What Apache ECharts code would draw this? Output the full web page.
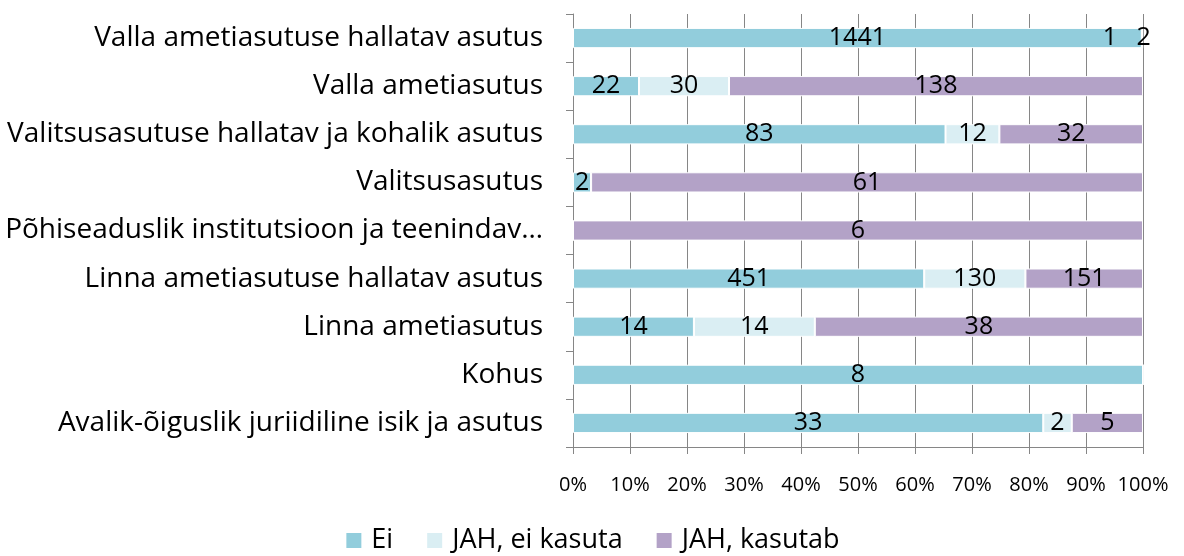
<!DOCTYPE html>
<html>
<head>
<meta charset="utf-8">
<script src="https://cdn.jsdelivr.net/npm/echarts@6/dist/echarts.min.js"></script>
<style>
  html, body { margin: 0; padding: 0; background: #fff; }
  #chart { width: 1184px; height: 556px; }
</style>
</head>
<body>
<div id="chart"></div>
<script>
  // kategooriad alt üles
  const categories = [
    'Avalik-õiguslik juriidiline isik ja asutus',
    'Kohus',
    'Linna ametiasutus',
    'Linna ametiasutuse hallatav asutus',
    'Põhiseaduslik institutsioon ja teenindav…',
    'Valitsusasutus',
    'Valitsusasutuse hallatav ja kohalik asutus',
    'Valla ametiasutus',
    'Valla ametiasutuse hallatav asutus'
  ]
  const seriesNames = ['Ei', 'JAH, ei kasuta', 'JAH, kasutab']
  const ei = [33, 8, 14, 451, 0, 2, 83, 22, 1441]
  const jahEiKasuta = [2, 0, 14, 130, 0, 0, 12, 30, 1]
  const jahKasutab = [5, 0, 38, 151, 6, 61, 32, 138, 2]
  const xTicks = ['0%', '10%', '20%', '30%', '40%', '50%', '60%', '70%', '80%', '90%', '100%']
  const colors = ['#92CDDC', '#DAEEF3', '#B3A2C7']

  const font = 'Open Sans'
  const counts = [ei, jahEiKasuta, jahKasutab]
  const totals = categories.map((c, i) => ei[i] + jahEiKasuta[i] + jahKasutab[i])

  const series = counts.map((arr, s) => ({
    name: seriesNames[s],
    type: 'bar',
    stack: 'total',
    barCategoryGap: '58%',
    itemStyle: { color: colors[s], borderColor: '#fff', borderWidth: 1 },
    label: {
      show: true,
      position: 'inside',
      color: '#000',
      fontFamily: font,
      fontSize: 25,
      formatter: (p) => (arr[p.dataIndex] === 0 ? '' : String(arr[p.dataIndex]))
    },
    data: arr.map((v, i) => {
      const item = { value: (v / totals[i]) * 100 }
      // tillukesed lõigud ülemisel tulbal – sildid nihutatud nagu originaalis
      if (i === 8 && s === 1) item.label = { offset: [-32, 0] }
      if (i === 8 && s === 2) item.label = { offset: [1, 0] }
      return item
    })
  }))

  const chart = echarts.init(document.getElementById('chart'))
  chart.setOption({
    animation: false,
    textStyle: { fontFamily: font },
    grid: { left: 573, right: 41, top: 14, bottom: 109 },
    legend: {
      bottom: -3,
      left: 'center',
      itemWidth: 17,
      itemHeight: 17,
      itemGap: 32,
      icon: 'rect',
      textStyle: { fontFamily: font, fontSize: 27, color: '#000', padding: [0, 0, 0, 4] },
      data: seriesNames
    },
    xAxis: {
      type: 'value',
      min: 0,
      max: 100,
      interval: 10,
      axisLine: { show: true, lineStyle: { color: '#868686' } },
      axisTick: { show: true, length: 7, lineStyle: { color: '#868686' } },
      splitLine: { show: true, lineStyle: { color: '#868686' } },
      axisLabel: {
        margin: 28,
        color: '#000',
        fontFamily: font,
        fontSize: 20,
        formatter: (v) => xTicks[Math.round(v / 10)]
      }
    },
    yAxis: {
      type: 'category',
      data: categories,
      axisLine: { show: true, lineStyle: { color: '#868686' } },
      axisTick: { show: true, length: 7, lineStyle: { color: '#868686' } },
      axisLabel: { margin: 30, color: '#000', fontFamily: font, fontSize: 28 }
    },
    series: series
  })
</script>
</body>
</html>
